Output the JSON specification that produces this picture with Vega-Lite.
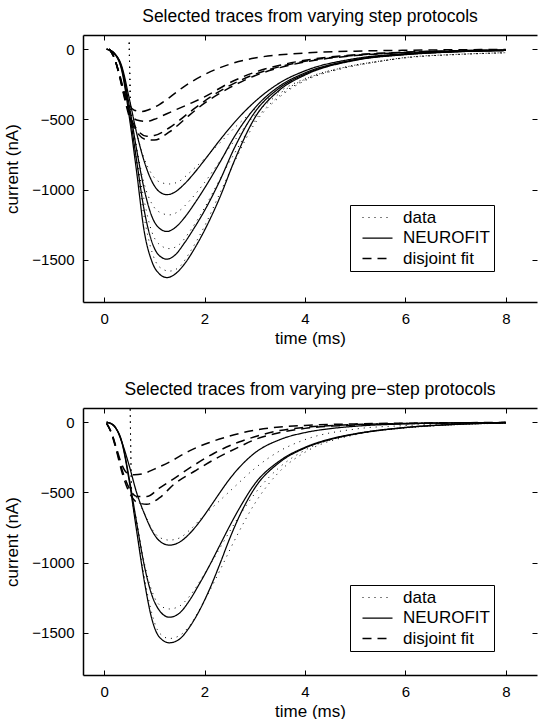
{
"$schema": "https://vega.github.io/schema/vega-lite/v6.json",
"background": "white",
"padding": {"left": 3, "top": 8, "right": 0, "bottom": 0},
"spacing": 34,
"config": {
  "font": "Liberation Sans",
  "view": {"stroke": null},
  "axis": {"grid": false, "domainColor": "black", "domainWidth": 1.5, "tickColor": "black", "tickSize": -5, "tickWidth": 1, "labelColor": "black", "labelFontSize": 15, "titleFontSize": 17, "titleFontWeight": "normal", "titleColor": "black", "labelFont": "Liberation Sans", "titleFont": "Liberation Sans", "labelPadding": 14, "format": "d"},
  "axisX": {"titlePadding": 4},
  "axisY": {"titlePadding": 10},
  "title": {"fontSize": 17.5, "fontWeight": "normal", "color": "black", "font": "Liberation Sans", "offset": 9}
},
"resolve": {"scale": {"strokeDash": "independent", "strokeWidth": "independent"}, "legend": {"strokeDash": "independent"}},
"datasets": {
"top": [
{"k":"NEUROFIT","s":"n1","t":0.05,"v":0},{"k":"NEUROFIT","s":"n1","t":0.2,"v":-28},{"k":"NEUROFIT","s":"n1","t":0.35,"v":-120},{"k":"NEUROFIT","s":"n1","t":0.5,"v":-350},{"k":"NEUROFIT","s":"n1","t":0.65,"v":-600},{"k":"NEUROFIT","s":"n1","t":0.8,"v":-800},{"k":"NEUROFIT","s":"n1","t":0.95,"v":-940},{"k":"NEUROFIT","s":"n1","t":1.1,"v":-1015},{"k":"NEUROFIT","s":"n1","t":1.25,"v":-1036},{"k":"NEUROFIT","s":"n1","t":1.4,"v":-1020},{"k":"NEUROFIT","s":"n1","t":1.6,"v":-960},{"k":"NEUROFIT","s":"n1","t":1.8,"v":-880},{"k":"NEUROFIT","s":"n1","t":2.0,"v":-790},{"k":"NEUROFIT","s":"n1","t":2.3,"v":-650},{"k":"NEUROFIT","s":"n1","t":2.6,"v":-520},{"k":"NEUROFIT","s":"n1","t":3.0,"v":-375},{"k":"NEUROFIT","s":"n1","t":3.5,"v":-240},{"k":"NEUROFIT","s":"n1","t":4.0,"v":-155},{"k":"NEUROFIT","s":"n1","t":5.0,"v":-68},{"k":"NEUROFIT","s":"n1","t":6.0,"v":-33},{"k":"NEUROFIT","s":"n1","t":7.0,"v":-17},{"k":"NEUROFIT","s":"n1","t":8.0,"v":-9},
{"k":"NEUROFIT","s":"n2","t":0.05,"v":0},{"k":"NEUROFIT","s":"n2","t":0.2,"v":-30},{"k":"NEUROFIT","s":"n2","t":0.35,"v":-130},{"k":"NEUROFIT","s":"n2","t":0.5,"v":-400},{"k":"NEUROFIT","s":"n2","t":0.65,"v":-720},{"k":"NEUROFIT","s":"n2","t":0.8,"v":-1000},{"k":"NEUROFIT","s":"n2","t":0.95,"v":-1190},{"k":"NEUROFIT","s":"n2","t":1.1,"v":-1275},{"k":"NEUROFIT","s":"n2","t":1.25,"v":-1298},{"k":"NEUROFIT","s":"n2","t":1.4,"v":-1275},{"k":"NEUROFIT","s":"n2","t":1.6,"v":-1200},{"k":"NEUROFIT","s":"n2","t":1.8,"v":-1100},{"k":"NEUROFIT","s":"n2","t":2.0,"v":-990},{"k":"NEUROFIT","s":"n2","t":2.3,"v":-810},{"k":"NEUROFIT","s":"n2","t":2.6,"v":-620},{"k":"NEUROFIT","s":"n2","t":3.0,"v":-420},{"k":"NEUROFIT","s":"n2","t":3.5,"v":-262},{"k":"NEUROFIT","s":"n2","t":4.0,"v":-170},{"k":"NEUROFIT","s":"n2","t":5.0,"v":-75},{"k":"NEUROFIT","s":"n2","t":6.0,"v":-37},{"k":"NEUROFIT","s":"n2","t":7.0,"v":-18},{"k":"NEUROFIT","s":"n2","t":8.0,"v":-10},
{"k":"NEUROFIT","s":"n3","t":0.05,"v":0},{"k":"NEUROFIT","s":"n3","t":0.2,"v":-30},{"k":"NEUROFIT","s":"n3","t":0.35,"v":-140},{"k":"NEUROFIT","s":"n3","t":0.5,"v":-440},{"k":"NEUROFIT","s":"n3","t":0.65,"v":-800},{"k":"NEUROFIT","s":"n3","t":0.8,"v":-1150},{"k":"NEUROFIT","s":"n3","t":0.95,"v":-1370},{"k":"NEUROFIT","s":"n3","t":1.1,"v":-1470},{"k":"NEUROFIT","s":"n3","t":1.25,"v":-1495},{"k":"NEUROFIT","s":"n3","t":1.4,"v":-1470},{"k":"NEUROFIT","s":"n3","t":1.6,"v":-1380},{"k":"NEUROFIT","s":"n3","t":1.8,"v":-1270},{"k":"NEUROFIT","s":"n3","t":2.0,"v":-1150},{"k":"NEUROFIT","s":"n3","t":2.3,"v":-940},{"k":"NEUROFIT","s":"n3","t":2.6,"v":-700},{"k":"NEUROFIT","s":"n3","t":3.0,"v":-450},{"k":"NEUROFIT","s":"n3","t":3.5,"v":-275},{"k":"NEUROFIT","s":"n3","t":4.0,"v":-178},{"k":"NEUROFIT","s":"n3","t":5.0,"v":-78},{"k":"NEUROFIT","s":"n3","t":6.0,"v":-38},{"k":"NEUROFIT","s":"n3","t":7.0,"v":-19},{"k":"NEUROFIT","s":"n3","t":8.0,"v":-10},
{"k":"NEUROFIT","s":"n4","t":0.05,"v":0},{"k":"NEUROFIT","s":"n4","t":0.2,"v":-32},{"k":"NEUROFIT","s":"n4","t":0.35,"v":-150},{"k":"NEUROFIT","s":"n4","t":0.5,"v":-480},{"k":"NEUROFIT","s":"n4","t":0.65,"v":-880},{"k":"NEUROFIT","s":"n4","t":0.8,"v":-1300},{"k":"NEUROFIT","s":"n4","t":0.95,"v":-1510},{"k":"NEUROFIT","s":"n4","t":1.1,"v":-1600},{"k":"NEUROFIT","s":"n4","t":1.25,"v":-1626},{"k":"NEUROFIT","s":"n4","t":1.4,"v":-1605},{"k":"NEUROFIT","s":"n4","t":1.6,"v":-1530},{"k":"NEUROFIT","s":"n4","t":1.8,"v":-1420},{"k":"NEUROFIT","s":"n4","t":2.0,"v":-1290},{"k":"NEUROFIT","s":"n4","t":2.3,"v":-1060},{"k":"NEUROFIT","s":"n4","t":2.6,"v":-790},{"k":"NEUROFIT","s":"n4","t":3.0,"v":-490},{"k":"NEUROFIT","s":"n4","t":3.5,"v":-290},{"k":"NEUROFIT","s":"n4","t":4.0,"v":-185},{"k":"NEUROFIT","s":"n4","t":5.0,"v":-80},{"k":"NEUROFIT","s":"n4","t":6.0,"v":-40},{"k":"NEUROFIT","s":"n4","t":7.0,"v":-20},{"k":"NEUROFIT","s":"n4","t":8.0,"v":-10},
{"k":"data","s":"d1","t":0.5,"v":45},{"k":"data","s":"d1","t":0.53,"v":-420},{"k":"data","s":"d1","t":0.65,"v":-600},{"k":"data","s":"d1","t":0.8,"v":-780},{"k":"data","s":"d1","t":0.95,"v":-890},{"k":"data","s":"d1","t":1.1,"v":-945},{"k":"data","s":"d1","t":1.3,"v":-960},{"k":"data","s":"d1","t":1.5,"v":-940},{"k":"data","s":"d1","t":1.7,"v":-880},{"k":"data","s":"d1","t":2.0,"v":-780},{"k":"data","s":"d1","t":2.3,"v":-670},{"k":"data","s":"d1","t":2.6,"v":-560},{"k":"data","s":"d1","t":3.0,"v":-430},{"k":"data","s":"d1","t":3.5,"v":-300},{"k":"data","s":"d1","t":4.0,"v":-210},{"k":"data","s":"d1","t":4.7,"v":-135},{"k":"data","s":"d1","t":5.5,"v":-85},{"k":"data","s":"d1","t":6.0,"v":-60},{"k":"data","s":"d1","t":7.0,"v":-40},{"k":"data","s":"d1","t":8.0,"v":-26},
{"k":"data","s":"d2","t":0.5,"v":45},{"k":"data","s":"d2","t":0.53,"v":-420},{"k":"data","s":"d2","t":0.65,"v":-700},{"k":"data","s":"d2","t":0.8,"v":-960},{"k":"data","s":"d2","t":0.95,"v":-1100},{"k":"data","s":"d2","t":1.1,"v":-1160},{"k":"data","s":"d2","t":1.3,"v":-1180},{"k":"data","s":"d2","t":1.5,"v":-1150},{"k":"data","s":"d2","t":1.7,"v":-1080},{"k":"data","s":"d2","t":2.0,"v":-950},{"k":"data","s":"d2","t":2.3,"v":-800},{"k":"data","s":"d2","t":2.6,"v":-650},{"k":"data","s":"d2","t":3.0,"v":-470},{"k":"data","s":"d2","t":3.5,"v":-315},{"k":"data","s":"d2","t":4.0,"v":-215},{"k":"data","s":"d2","t":4.7,"v":-137},{"k":"data","s":"d2","t":5.5,"v":-85},{"k":"data","s":"d2","t":6.0,"v":-60},{"k":"data","s":"d2","t":7.0,"v":-38},{"k":"data","s":"d2","t":8.0,"v":-26},
{"k":"data","s":"d3","t":0.5,"v":45},{"k":"data","s":"d3","t":0.53,"v":-420},{"k":"data","s":"d3","t":0.65,"v":-760},{"k":"data","s":"d3","t":0.8,"v":-1080},{"k":"data","s":"d3","t":0.95,"v":-1300},{"k":"data","s":"d3","t":1.1,"v":-1390},{"k":"data","s":"d3","t":1.3,"v":-1420},{"k":"data","s":"d3","t":1.5,"v":-1390},{"k":"data","s":"d3","t":1.7,"v":-1300},{"k":"data","s":"d3","t":2.0,"v":-1130},{"k":"data","s":"d3","t":2.3,"v":-930},{"k":"data","s":"d3","t":2.6,"v":-740},{"k":"data","s":"d3","t":3.0,"v":-510},{"k":"data","s":"d3","t":3.5,"v":-330},{"k":"data","s":"d3","t":4.0,"v":-220},{"k":"data","s":"d3","t":4.7,"v":-140},{"k":"data","s":"d3","t":5.5,"v":-87},{"k":"data","s":"d3","t":6.0,"v":-62},{"k":"data","s":"d3","t":7.0,"v":-38},{"k":"data","s":"d3","t":8.0,"v":-26},
{"k":"data","s":"d4","t":0.5,"v":45},{"k":"data","s":"d4","t":0.53,"v":-420},{"k":"data","s":"d4","t":0.65,"v":-820},{"k":"data","s":"d4","t":0.8,"v":-1200},{"k":"data","s":"d4","t":0.95,"v":-1440},{"k":"data","s":"d4","t":1.1,"v":-1550},{"k":"data","s":"d4","t":1.3,"v":-1580},{"k":"data","s":"d4","t":1.5,"v":-1550},{"k":"data","s":"d4","t":1.7,"v":-1450},{"k":"data","s":"d4","t":2.0,"v":-1260},{"k":"data","s":"d4","t":2.3,"v":-1030},{"k":"data","s":"d4","t":2.6,"v":-800},{"k":"data","s":"d4","t":3.0,"v":-530},{"k":"data","s":"d4","t":3.5,"v":-340},{"k":"data","s":"d4","t":4.0,"v":-225},{"k":"data","s":"d4","t":4.7,"v":-143},{"k":"data","s":"d4","t":5.5,"v":-88},{"k":"data","s":"d4","t":6.0,"v":-63},{"k":"data","s":"d4","t":7.0,"v":-39},{"k":"data","s":"d4","t":8.0,"v":-27},
{"k":"disjoint fit","s":"f1","t":0.1,"v":0},{"k":"disjoint fit","s":"f1","t":0.2,"v":-60},{"k":"disjoint fit","s":"f1","t":0.3,"v":-170},{"k":"disjoint fit","s":"f1","t":0.4,"v":-300},{"k":"disjoint fit","s":"f1","t":0.5,"v":-395},{"k":"disjoint fit","s":"f1","t":0.6,"v":-435},{"k":"disjoint fit","s":"f1","t":0.75,"v":-445},{"k":"disjoint fit","s":"f1","t":0.9,"v":-430},{"k":"disjoint fit","s":"f1","t":1.1,"v":-395},{"k":"disjoint fit","s":"f1","t":1.3,"v":-345},{"k":"disjoint fit","s":"f1","t":1.6,"v":-265},{"k":"disjoint fit","s":"f1","t":2.0,"v":-182},{"k":"disjoint fit","s":"f1","t":2.5,"v":-108},{"k":"disjoint fit","s":"f1","t":3.0,"v":-64},{"k":"disjoint fit","s":"f1","t":3.5,"v":-41},{"k":"disjoint fit","s":"f1","t":4.0,"v":-28},{"k":"disjoint fit","s":"f1","t":5.0,"v":-15},{"k":"disjoint fit","s":"f1","t":6.0,"v":-9},{"k":"disjoint fit","s":"f1","t":7.0,"v":-5},{"k":"disjoint fit","s":"f1","t":8.0,"v":-3},
{"k":"disjoint fit","s":"f2","t":0.1,"v":0},{"k":"disjoint fit","s":"f2","t":0.2,"v":-60},{"k":"disjoint fit","s":"f2","t":0.3,"v":-175},{"k":"disjoint fit","s":"f2","t":0.4,"v":-320},{"k":"disjoint fit","s":"f2","t":0.5,"v":-440},{"k":"disjoint fit","s":"f2","t":0.65,"v":-505},{"k":"disjoint fit","s":"f2","t":0.85,"v":-515},{"k":"disjoint fit","s":"f2","t":1.0,"v":-500},{"k":"disjoint fit","s":"f2","t":1.25,"v":-460},{"k":"disjoint fit","s":"f2","t":1.7,"v":-390},{"k":"disjoint fit","s":"f2","t":2.0,"v":-340},{"k":"disjoint fit","s":"f2","t":2.5,"v":-240},{"k":"disjoint fit","s":"f2","t":3.0,"v":-165},{"k":"disjoint fit","s":"f2","t":3.5,"v":-115},{"k":"disjoint fit","s":"f2","t":4.0,"v":-80},{"k":"disjoint fit","s":"f2","t":5.0,"v":-40},{"k":"disjoint fit","s":"f2","t":6.0,"v":-22},{"k":"disjoint fit","s":"f2","t":7.0,"v":-12},{"k":"disjoint fit","s":"f2","t":8.0,"v":-7},
{"k":"disjoint fit","s":"f3","t":0.1,"v":0},{"k":"disjoint fit","s":"f3","t":0.2,"v":-60},{"k":"disjoint fit","s":"f3","t":0.3,"v":-180},{"k":"disjoint fit","s":"f3","t":0.4,"v":-330},{"k":"disjoint fit","s":"f3","t":0.5,"v":-460},{"k":"disjoint fit","s":"f3","t":0.65,"v":-570},{"k":"disjoint fit","s":"f3","t":0.85,"v":-620},{"k":"disjoint fit","s":"f3","t":1.0,"v":-615},{"k":"disjoint fit","s":"f3","t":1.3,"v":-560},{"k":"disjoint fit","s":"f3","t":1.7,"v":-450},{"k":"disjoint fit","s":"f3","t":2.0,"v":-370},{"k":"disjoint fit","s":"f3","t":2.5,"v":-260},{"k":"disjoint fit","s":"f3","t":3.0,"v":-180},{"k":"disjoint fit","s":"f3","t":3.5,"v":-125},{"k":"disjoint fit","s":"f3","t":4.0,"v":-87},{"k":"disjoint fit","s":"f3","t":5.0,"v":-44},{"k":"disjoint fit","s":"f3","t":6.0,"v":-24},{"k":"disjoint fit","s":"f3","t":7.0,"v":-13},{"k":"disjoint fit","s":"f3","t":8.0,"v":-7},
{"k":"disjoint fit","s":"f4","t":0.1,"v":0},{"k":"disjoint fit","s":"f4","t":0.2,"v":-60},{"k":"disjoint fit","s":"f4","t":0.3,"v":-185},{"k":"disjoint fit","s":"f4","t":0.4,"v":-340},{"k":"disjoint fit","s":"f4","t":0.5,"v":-480},{"k":"disjoint fit","s":"f4","t":0.65,"v":-590},{"k":"disjoint fit","s":"f4","t":0.85,"v":-645},{"k":"disjoint fit","s":"f4","t":1.0,"v":-648},{"k":"disjoint fit","s":"f4","t":1.3,"v":-590},{"k":"disjoint fit","s":"f4","t":1.7,"v":-470},{"k":"disjoint fit","s":"f4","t":2.0,"v":-385},{"k":"disjoint fit","s":"f4","t":2.5,"v":-275},{"k":"disjoint fit","s":"f4","t":3.0,"v":-190},{"k":"disjoint fit","s":"f4","t":3.5,"v":-132},{"k":"disjoint fit","s":"f4","t":4.0,"v":-92},{"k":"disjoint fit","s":"f4","t":5.0,"v":-46},{"k":"disjoint fit","s":"f4","t":6.0,"v":-25},{"k":"disjoint fit","s":"f4","t":7.0,"v":-14},{"k":"disjoint fit","s":"f4","t":8.0,"v":-8}
],
"bot": [
{"k":"NEUROFIT","s":"m1","t":0.05,"v":0},{"k":"NEUROFIT","s":"m1","t":0.2,"v":-25},{"k":"NEUROFIT","s":"m1","t":0.35,"v":-140},{"k":"NEUROFIT","s":"m1","t":0.5,"v":-310},{"k":"NEUROFIT","s":"m1","t":0.65,"v":-505},{"k":"NEUROFIT","s":"m1","t":0.8,"v":-650},{"k":"NEUROFIT","s":"m1","t":0.95,"v":-770},{"k":"NEUROFIT","s":"m1","t":1.1,"v":-845},{"k":"NEUROFIT","s":"m1","t":1.3,"v":-876},{"k":"NEUROFIT","s":"m1","t":1.5,"v":-855},{"k":"NEUROFIT","s":"m1","t":1.7,"v":-795},{"k":"NEUROFIT","s":"m1","t":1.9,"v":-710},{"k":"NEUROFIT","s":"m1","t":2.1,"v":-610},{"k":"NEUROFIT","s":"m1","t":2.3,"v":-505},{"k":"NEUROFIT","s":"m1","t":2.5,"v":-405},{"k":"NEUROFIT","s":"m1","t":2.7,"v":-320},{"k":"NEUROFIT","s":"m1","t":3.0,"v":-220},{"k":"NEUROFIT","s":"m1","t":3.5,"v":-125},{"k":"NEUROFIT","s":"m1","t":4.0,"v":-75},{"k":"NEUROFIT","s":"m1","t":4.5,"v":-47},{"k":"NEUROFIT","s":"m1","t":5.0,"v":-30},{"k":"NEUROFIT","s":"m1","t":6.0,"v":-13},{"k":"NEUROFIT","s":"m1","t":7.0,"v":-6},{"k":"NEUROFIT","s":"m1","t":8.0,"v":-3},
{"k":"NEUROFIT","s":"m2","t":0.05,"v":0},{"k":"NEUROFIT","s":"m2","t":0.2,"v":-30},{"k":"NEUROFIT","s":"m2","t":0.35,"v":-135},{"k":"NEUROFIT","s":"m2","t":0.5,"v":-400},{"k":"NEUROFIT","s":"m2","t":0.65,"v":-720},{"k":"NEUROFIT","s":"m2","t":0.8,"v":-1020},{"k":"NEUROFIT","s":"m2","t":0.95,"v":-1230},{"k":"NEUROFIT","s":"m2","t":1.1,"v":-1340},{"k":"NEUROFIT","s":"m2","t":1.3,"v":-1389},{"k":"NEUROFIT","s":"m2","t":1.5,"v":-1360},{"k":"NEUROFIT","s":"m2","t":1.7,"v":-1270},{"k":"NEUROFIT","s":"m2","t":1.9,"v":-1150},{"k":"NEUROFIT","s":"m2","t":2.1,"v":-1020},{"k":"NEUROFIT","s":"m2","t":2.3,"v":-880},{"k":"NEUROFIT","s":"m2","t":2.5,"v":-740},{"k":"NEUROFIT","s":"m2","t":2.7,"v":-610},{"k":"NEUROFIT","s":"m2","t":3.0,"v":-440},{"k":"NEUROFIT","s":"m2","t":3.5,"v":-275},{"k":"NEUROFIT","s":"m2","t":4.0,"v":-180},{"k":"NEUROFIT","s":"m2","t":4.5,"v":-120},{"k":"NEUROFIT","s":"m2","t":5.0,"v":-83},{"k":"NEUROFIT","s":"m2","t":6.0,"v":-38},{"k":"NEUROFIT","s":"m2","t":7.0,"v":-16},{"k":"NEUROFIT","s":"m2","t":8.0,"v":-6},
{"k":"NEUROFIT","s":"m3","t":0.05,"v":0},{"k":"NEUROFIT","s":"m3","t":0.2,"v":-30},{"k":"NEUROFIT","s":"m3","t":0.35,"v":-140},{"k":"NEUROFIT","s":"m3","t":0.5,"v":-420},{"k":"NEUROFIT","s":"m3","t":0.65,"v":-780},{"k":"NEUROFIT","s":"m3","t":0.8,"v":-1130},{"k":"NEUROFIT","s":"m3","t":0.95,"v":-1400},{"k":"NEUROFIT","s":"m3","t":1.1,"v":-1530},{"k":"NEUROFIT","s":"m3","t":1.3,"v":-1571},{"k":"NEUROFIT","s":"m3","t":1.5,"v":-1545},{"k":"NEUROFIT","s":"m3","t":1.7,"v":-1460},{"k":"NEUROFIT","s":"m3","t":1.9,"v":-1340},{"k":"NEUROFIT","s":"m3","t":2.1,"v":-1190},{"k":"NEUROFIT","s":"m3","t":2.3,"v":-1015},{"k":"NEUROFIT","s":"m3","t":2.5,"v":-830},{"k":"NEUROFIT","s":"m3","t":2.7,"v":-665},{"k":"NEUROFIT","s":"m3","t":3.0,"v":-470},{"k":"NEUROFIT","s":"m3","t":3.5,"v":-285},{"k":"NEUROFIT","s":"m3","t":4.0,"v":-185},{"k":"NEUROFIT","s":"m3","t":4.5,"v":-125},{"k":"NEUROFIT","s":"m3","t":5.0,"v":-86},{"k":"NEUROFIT","s":"m3","t":6.0,"v":-40},{"k":"NEUROFIT","s":"m3","t":7.0,"v":-17},{"k":"NEUROFIT","s":"m3","t":8.0,"v":-6},
{"k":"data","s":"e1","t":0.52,"v":90},{"k":"data","s":"e1","t":0.55,"v":-500},{"k":"data","s":"e1","t":0.65,"v":-540},{"k":"data","s":"e1","t":0.8,"v":-650},{"k":"data","s":"e1","t":0.95,"v":-760},{"k":"data","s":"e1","t":1.1,"v":-820},{"k":"data","s":"e1","t":1.3,"v":-840},{"k":"data","s":"e1","t":1.5,"v":-825},{"k":"data","s":"e1","t":1.7,"v":-770},{"k":"data","s":"e1","t":2.0,"v":-660},{"k":"data","s":"e1","t":2.3,"v":-560},{"k":"data","s":"e1","t":2.6,"v":-460},{"k":"data","s":"e1","t":3.0,"v":-330},{"k":"data","s":"e1","t":3.5,"v":-205},{"k":"data","s":"e1","t":4.0,"v":-125},{"k":"data","s":"e1","t":5.0,"v":-50},{"k":"data","s":"e1","t":6.0,"v":-25},{"k":"data","s":"e1","t":7.0,"v":-12},{"k":"data","s":"e1","t":8.0,"v":-6},
{"k":"data","s":"e2","t":0.52,"v":90},{"k":"data","s":"e2","t":0.55,"v":-500},{"k":"data","s":"e2","t":0.65,"v":-700},{"k":"data","s":"e2","t":0.8,"v":-1000},{"k":"data","s":"e2","t":0.95,"v":-1200},{"k":"data","s":"e2","t":1.1,"v":-1300},{"k":"data","s":"e2","t":1.3,"v":-1330},{"k":"data","s":"e2","t":1.5,"v":-1310},{"k":"data","s":"e2","t":1.7,"v":-1240},{"k":"data","s":"e2","t":2.0,"v":-1080},{"k":"data","s":"e2","t":2.3,"v":-900},{"k":"data","s":"e2","t":2.6,"v":-720},{"k":"data","s":"e2","t":3.0,"v":-510},{"k":"data","s":"e2","t":3.5,"v":-320},{"k":"data","s":"e2","t":4.0,"v":-200},{"k":"data","s":"e2","t":5.0,"v":-85},{"k":"data","s":"e2","t":6.0,"v":-40},{"k":"data","s":"e2","t":7.0,"v":-18},{"k":"data","s":"e2","t":8.0,"v":-8},
{"k":"data","s":"e3","t":0.52,"v":90},{"k":"data","s":"e3","t":0.55,"v":-500},{"k":"data","s":"e3","t":0.65,"v":-760},{"k":"data","s":"e3","t":0.8,"v":-1100},{"k":"data","s":"e3","t":0.95,"v":-1360},{"k":"data","s":"e3","t":1.1,"v":-1500},{"k":"data","s":"e3","t":1.3,"v":-1540},{"k":"data","s":"e3","t":1.5,"v":-1520},{"k":"data","s":"e3","t":1.7,"v":-1450},{"k":"data","s":"e3","t":2.0,"v":-1270},{"k":"data","s":"e3","t":2.3,"v":-1060},{"k":"data","s":"e3","t":2.6,"v":-840},{"k":"data","s":"e3","t":3.0,"v":-580},{"k":"data","s":"e3","t":3.5,"v":-350},{"k":"data","s":"e3","t":4.0,"v":-215},{"k":"data","s":"e3","t":5.0,"v":-90},{"k":"data","s":"e3","t":6.0,"v":-42},{"k":"data","s":"e3","t":7.0,"v":-19},{"k":"data","s":"e3","t":8.0,"v":-8},
{"k":"disjoint fit","s":"g1","t":0.05,"v":-10},{"k":"disjoint fit","s":"g1","t":0.15,"v":-80},{"k":"disjoint fit","s":"g1","t":0.25,"v":-190},{"k":"disjoint fit","s":"g1","t":0.35,"v":-300},{"k":"disjoint fit","s":"g1","t":0.45,"v":-360},{"k":"disjoint fit","s":"g1","t":0.6,"v":-375},{"k":"disjoint fit","s":"g1","t":0.8,"v":-365},{"k":"disjoint fit","s":"g1","t":1.0,"v":-335},{"k":"disjoint fit","s":"g1","t":1.3,"v":-285},{"k":"disjoint fit","s":"g1","t":1.7,"v":-205},{"k":"disjoint fit","s":"g1","t":2.1,"v":-145},{"k":"disjoint fit","s":"g1","t":2.5,"v":-100},{"k":"disjoint fit","s":"g1","t":3.0,"v":-58},{"k":"disjoint fit","s":"g1","t":3.5,"v":-35},{"k":"disjoint fit","s":"g1","t":4.0,"v":-24},{"k":"disjoint fit","s":"g1","t":5.0,"v":-13},{"k":"disjoint fit","s":"g1","t":6.0,"v":-8},{"k":"disjoint fit","s":"g1","t":7.0,"v":-5},{"k":"disjoint fit","s":"g1","t":8.0,"v":-3},
{"k":"disjoint fit","s":"g2","t":0.05,"v":-10},{"k":"disjoint fit","s":"g2","t":0.15,"v":-80},{"k":"disjoint fit","s":"g2","t":0.25,"v":-200},{"k":"disjoint fit","s":"g2","t":0.35,"v":-330},{"k":"disjoint fit","s":"g2","t":0.5,"v":-470},{"k":"disjoint fit","s":"g2","t":0.65,"v":-530},{"k":"disjoint fit","s":"g2","t":0.85,"v":-530},{"k":"disjoint fit","s":"g2","t":1.1,"v":-470},{"k":"disjoint fit","s":"g2","t":1.4,"v":-400},{"k":"disjoint fit","s":"g2","t":1.8,"v":-305},{"k":"disjoint fit","s":"g2","t":2.2,"v":-220},{"k":"disjoint fit","s":"g2","t":2.7,"v":-140},{"k":"disjoint fit","s":"g2","t":3.0,"v":-105},{"k":"disjoint fit","s":"g2","t":3.5,"v":-60},{"k":"disjoint fit","s":"g2","t":4.0,"v":-38},{"k":"disjoint fit","s":"g2","t":5.0,"v":-18},{"k":"disjoint fit","s":"g2","t":6.0,"v":-10},{"k":"disjoint fit","s":"g2","t":7.0,"v":-6},{"k":"disjoint fit","s":"g2","t":8.0,"v":-4},
{"k":"disjoint fit","s":"g3","t":0.05,"v":-10},{"k":"disjoint fit","s":"g3","t":0.15,"v":-85},{"k":"disjoint fit","s":"g3","t":0.25,"v":-210},{"k":"disjoint fit","s":"g3","t":0.35,"v":-350},{"k":"disjoint fit","s":"g3","t":0.5,"v":-500},{"k":"disjoint fit","s":"g3","t":0.65,"v":-570},{"k":"disjoint fit","s":"g3","t":0.85,"v":-585},{"k":"disjoint fit","s":"g3","t":1.1,"v":-540},{"k":"disjoint fit","s":"g3","t":1.4,"v":-440},{"k":"disjoint fit","s":"g3","t":1.8,"v":-350},{"k":"disjoint fit","s":"g3","t":2.2,"v":-265},{"k":"disjoint fit","s":"g3","t":2.7,"v":-175},{"k":"disjoint fit","s":"g3","t":3.0,"v":-125},{"k":"disjoint fit","s":"g3","t":3.5,"v":-75},{"k":"disjoint fit","s":"g3","t":4.0,"v":-45},{"k":"disjoint fit","s":"g3","t":5.0,"v":-21},{"k":"disjoint fit","s":"g3","t":6.0,"v":-11},{"k":"disjoint fit","s":"g3","t":7.0,"v":-7},{"k":"disjoint fit","s":"g3","t":8.0,"v":-4}
]
},
"vconcat": [
{
  "width": 454, "height": 267,
  "title": "Selected traces from varying step protocols",
  "data": {"name": "top"},
  "resolve": {"axis": {"x": "independent", "y": "independent"}},
  "layer": [
    {"mark": {"type": "line", "color": "black", "interpolate": "monotone", "strokeCap": "butt"},
     "encoding": {
       "x": {"field": "t", "type": "quantitative", "scale": {"domain": [-0.42, 8.62], "nice": false, "zero": false}, "axis": {"values": [0, 2, 4, 6, 8], "title": "time (ms)"}},
       "y": {"field": "v", "type": "quantitative", "scale": {"domain": [-1800, 100], "nice": false, "zero": false}, "axis": {"values": [0, -500, -1000, -1500], "title": "current (nA)"}},
       "detail": {"field": "s"},
       "strokeWidth": {"field": "k", "type": "nominal", "scale": {"domain": ["data", "NEUROFIT", "disjoint fit"], "range": [1, 1.5, 1.5]}, "legend": null},
       "strokeDash": {"field": "k", "type": "nominal", "scale": {"domain": ["data", "NEUROFIT", "disjoint fit"], "range": [[1, 5], [1, 0], [9, 6]]},
         "legend": {"orient": "none", "legendX": 267, "legendY": 170, "title": null, "symbolType": "M0,0H6", "symbolSize": 100, "symbolStrokeColor": "black", "symbolStrokeWidth": 1.4, "labelFontSize": 17, "labelFont": "Liberation Sans", "labelColor": "black", "strokeColor": "black", "fillColor": "white", "padding": 4, "rowPadding": 2.5, "labelOffset": 32, "cornerRadius": 0}}
     }},
    {"mark": {"type": "line", "opacity": 0},
     "encoding": {
       "x": {"field": "t", "type": "quantitative", "axis": {"orient": "top", "values": [0, 2, 4, 6, 8], "labels": false, "title": null}},
       "y": {"field": "v", "type": "quantitative", "axis": {"orient": "right", "values": [0, -500, -1000, -1500], "labels": false, "title": null, "domain": false}},
       "detail": {"field": "s"}
     }}
  ]
},
{
  "width": 454, "height": 267,
  "title": "Selected traces from varying pre\u2212step protocols",
  "data": {"name": "bot"},
  "resolve": {"axis": {"x": "independent", "y": "independent"}},
  "layer": [
    {"mark": {"type": "line", "color": "black", "interpolate": "monotone", "strokeCap": "butt"},
     "encoding": {
       "x": {"field": "t", "type": "quantitative", "scale": {"domain": [-0.42, 8.62], "nice": false, "zero": false}, "axis": {"values": [0, 2, 4, 6, 8], "title": "time (ms)"}},
       "y": {"field": "v", "type": "quantitative", "scale": {"domain": [-1800, 100], "nice": false, "zero": false}, "axis": {"values": [0, -500, -1000, -1500], "title": "current (nA)"}},
       "detail": {"field": "s"},
       "strokeWidth": {"field": "k", "type": "nominal", "scale": {"domain": ["data", "NEUROFIT", "disjoint fit"], "range": [1, 1.5, 1.5]}, "legend": null},
       "strokeDash": {"field": "k", "type": "nominal", "scale": {"domain": ["data", "NEUROFIT", "disjoint fit"], "range": [[1, 5], [1, 0], [9, 6]]},
         "legend": {"orient": "none", "legendX": 267, "legendY": 177, "title": null, "symbolType": "M0,0H6", "symbolSize": 100, "symbolStrokeColor": "black", "symbolStrokeWidth": 1.4, "labelFontSize": 17, "labelFont": "Liberation Sans", "labelColor": "black", "strokeColor": "black", "fillColor": "white", "padding": 4, "rowPadding": 2.5, "labelOffset": 32, "cornerRadius": 0}}
     }},
    {"mark": {"type": "line", "opacity": 0},
     "encoding": {
       "x": {"field": "t", "type": "quantitative", "axis": {"orient": "top", "values": [0, 2, 4, 6, 8], "labels": false, "title": null}},
       "y": {"field": "v", "type": "quantitative", "axis": {"orient": "right", "values": [0, -500, -1000, -1500], "labels": false, "title": null, "domain": false}},
       "detail": {"field": "s"}
     }}
  ]
}
]
}
